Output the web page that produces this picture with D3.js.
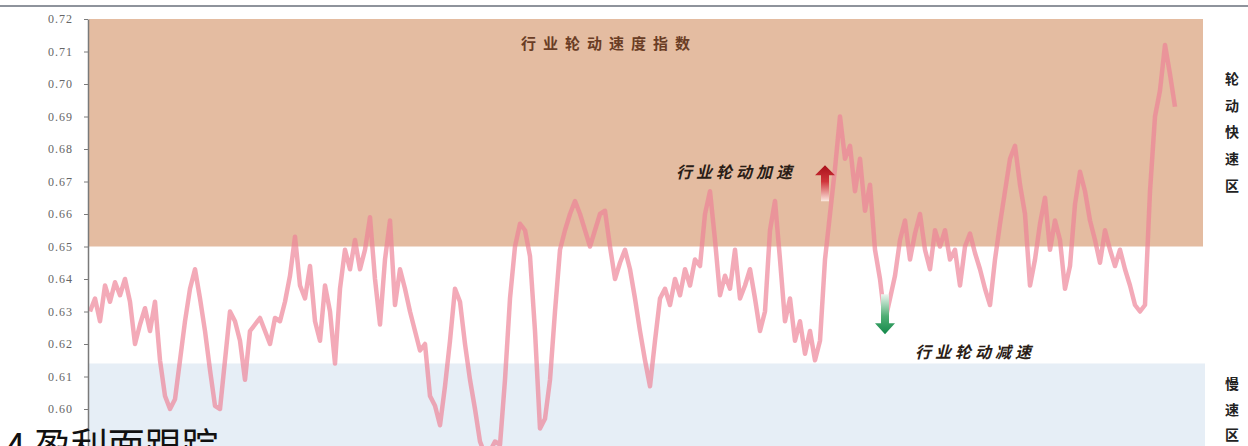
<!DOCTYPE html>
<html>
<head>
<meta charset="utf-8">
<script src="https://cdn.jsdelivr.net/npm/d3@7/dist/d3.min.js"></script>
<style>
  html, body { margin: 0; padding: 0; background: #fff; }
  svg { display: block; }
</style>
</head>
<body>
<svg id="chart" width="1248" height="446"></svg>
<script>
// Industry rotation speed index, sampled values
const speedIndex = [
  0.630,0.634,0.627,0.638,0.633,0.639,0.635,0.640,0.633,0.620,
  0.626,0.631,0.624,0.633,0.615,0.604,0.600,0.603,0.615,0.627,
  0.637,0.643,0.634,0.624,0.612,0.601,0.600,0.615,0.630,0.627,
  0.621,0.609,0.624,0.626,0.628,0.624,0.620,0.628,0.627,0.633,
  0.641,0.653,0.638,0.634,0.644,0.627,0.621,0.638,0.630,0.614,
  0.637,0.649,0.643,0.652,0.643,0.649,0.659,0.640,0.626,0.646,
  0.658,0.632,0.643,0.637,0.630,0.624,0.618,0.620,0.604,0.601,
  0.595,0.607,0.621,0.637,0.633,0.620,0.609,0.600,0.590,0.586,
  0.587,0.590,0.589,0.609,0.634,0.650,0.657,0.655,0.647,0.624,
  0.594,0.597,0.609,0.630,0.649,0.655,0.660,0.664,0.660,0.655,
  0.650,0.655,0.660,0.661,0.650,0.640,0.645,0.649,0.643,0.634,
  0.624,0.615,0.607,0.621,0.634,0.637,0.632,0.640,0.635,0.643,
  0.638,0.646,0.644,0.660,0.667,0.652,0.635,0.641,0.637,0.649,
  0.634,0.638,0.643,0.634,0.624,0.630,0.655,0.664,0.646,0.627,
  0.634,0.621,0.627,0.617,0.624,0.615,0.621,0.646,0.660,0.674,
  0.690,0.677,0.681,0.667,0.677,0.661,0.669,0.649,0.640,0.627,
  0.634,0.641,0.652,0.658,0.646,0.654,0.660,0.649,0.643,0.655,
  0.650,0.655,0.646,0.649,0.638,0.650,0.654,0.648,0.643,0.637,
  0.632,0.646,0.657,0.667,0.677,0.681,0.669,0.660,0.638,0.646,
  0.657,0.665,0.649,0.658,0.652,0.637,0.644,0.663,0.673,0.667,
  0.658,0.652,0.645,0.655,0.649,0.644,0.649,0.643,0.638,0.632,
  0.630,0.632,0.667,0.690,0.698,0.712,0.703,0.693
];

// Y axis tick labels
const tickLabels = [0.72, 0.71, 0.70, 0.69, 0.68, 0.67, 0.66, 0.65, 0.64, 0.63, 0.62, 0.61, 0.60];

// Zone boundaries
const fastZone = [0.65, 0.72];
const slowZoneTop = 0.614;

// Annotations: index, value at arrow tip, label
const accelMark = { index: 147, value: 0.675, label: "行业轮动加速" };
const decelMark = { index: 159, value: 0.623, label: "行业轮动减速" };

const chartTitle = "行业轮动速度指数";
const fastZoneLabel = "轮动快速区";
const slowZoneLabel = "慢速区";
const sectionHeading = "4 盈利面跟踪";

const svg = d3.select("#chart");
const W = 1248, H = 446;

const x = d3.scaleLinear().domain([0, speedIndex.length - 1]).range([90, 1175]);
const y = d3.scaleLinear().domain([0.588, 0.72]).range([448, 19]);

const plotLeft = 89, fastRight = 1203, slowRight = 1205;

// top rule of the page
svg.append("line")
  .attr("x1", 0).attr("x2", W).attr("y1", 6).attr("y2", 6)
  .attr("stroke", "#8e939c").attr("stroke-width", 2);

// fast zone
svg.append("rect")
  .attr("x", plotLeft).attr("width", fastRight - plotLeft)
  .attr("y", y(fastZone[1])).attr("height", y(fastZone[0]) - y(fastZone[1]))
  .attr("fill", "#e4bca1");

// slow zone
svg.append("rect")
  .attr("x", plotLeft).attr("width", slowRight - plotLeft)
  .attr("y", y(slowZoneTop)).attr("height", H - y(slowZoneTop))
  .attr("fill", "#e6eef6");

// index line
const line = d3.line()
  .x((d, i) => x(i))
  .y(d => y(d));

svg.append("path")
  .datum(speedIndex)
  .attr("d", line)
  .attr("fill", "none")
  .attr("stroke", "#ee8296")
  .attr("stroke-opacity", 0.68)
  .attr("stroke-width", 4.5)
  .attr("stroke-linejoin", "round");

// axis
const axis = d3.axisLeft(y)
  .tickValues(tickLabels)
  .tickFormat(d3.format(".2f"))
  .tickSize(4)
  .tickSizeOuter(0)
  .tickPadding(11);

const gAxis = svg.append("g")
  .attr("transform", `translate(${plotLeft - 1},0)`)
  .call(axis);
gAxis.select(".domain").attr("stroke", "#7a7a7a").attr("stroke-width", 1.5);
gAxis.selectAll(".tick line").attr("stroke", "#7a7a7a");
gAxis.selectAll(".tick text")
  .attr("fill", "#666")
  .style("font-family", "'Liberation Serif', serif")
  .style("font-size", "12px")
  .style("letter-spacing", "1px");

// gradients for arrows
const defs = svg.append("defs");
const gRed = defs.append("linearGradient").attr("id", "gradUp").attr("x1", 0).attr("x2", 0).attr("y1", 0).attr("y2", 1);
gRed.append("stop").attr("offset", "0%").attr("stop-color", "#a8101a");
gRed.append("stop").attr("offset", "45%").attr("stop-color", "#d0343a");
gRed.append("stop").attr("offset", "100%").attr("stop-color", "#fbe9e0");
const gGreen = defs.append("linearGradient").attr("id", "gradDown").attr("x1", 0).attr("x2", 0).attr("y1", 0).attr("y2", 1);
gGreen.append("stop").attr("offset", "0%").attr("stop-color", "#eef6f0");
gGreen.append("stop").attr("offset", "55%").attr("stop-color", "#4fae74");
gGreen.append("stop").attr("offset", "100%").attr("stop-color", "#13884a");

// up arrow: tip at origin
const upArrow = "M0,0 L10,10 L4,10 L4,36 L-4,36 L-4,10 L-10,10 Z";
svg.append("path")
  .attr("d", upArrow)
  .attr("transform", `translate(${x(accelMark.index)},${y(accelMark.value)})`)
  .attr("fill", "url(#gradUp)");

// down arrow: tip at origin
const downArrow = "M0,0 L-10,-11 L-4,-11 L-4,-40 L4,-40 L4,-11 L10,-11 Z";
svg.append("path")
  .attr("d", downArrow)
  .attr("transform", `translate(${x(decelMark.index)},${y(decelMark.value)})`)
  .attr("fill", "url(#gradDown)");

const cjk = "'Noto Sans CJK SC', sans-serif";

// chart title
svg.append("text")
  .attr("x", 521).attr("y", 49)
  .style("font-family", cjk).style("font-size", "15px").style("font-weight", "bold")
  .style("letter-spacing", "7px")
  .attr("fill", "#6a3d25")
  .text(chartTitle);

// annotation labels
svg.append("text")
  .attr("x", 676).attr("y", 178)
  .style("font-family", cjk).style("font-size", "16px").style("font-weight", "bold")
  .style("font-style", "italic").style("letter-spacing", "4px")
  .attr("fill", "#2b1d16")
  .text(accelMark.label);

svg.append("text")
  .attr("x", 915).attr("y", 358)
  .style("font-family", cjk).style("font-size", "16px").style("font-weight", "bold")
  .style("font-style", "italic").style("letter-spacing", "4px")
  .attr("fill", "#2b1d16")
  .text(decelMark.label);

// vertical zone labels at right
function verticalLabel(str, cx, firstCy, step) {
  svg.append("g").selectAll("text")
    .data(Array.from(str))
    .join("text")
    .attr("x", cx)
    .attr("y", (d, i) => firstCy + i * step)
    .attr("text-anchor", "middle")
    .attr("dominant-baseline", "central")
    .style("font-family", cjk).style("font-size", "14px").style("font-weight", "bold")
    .attr("fill", "#222")
    .text(d => d);
}
verticalLabel(fastZoneLabel, 1232, 78, 26.7);
verticalLabel(slowZoneLabel, 1232, 383, 25.5);

// section heading of the surrounding document
svg.append("text")
  .attr("x", 5).attr("y", 460)
  .style("font-family", cjk).style("font-size", "37px")
  .attr("fill", "#111")
  .text(sectionHeading);
</script>
</body>
</html>
